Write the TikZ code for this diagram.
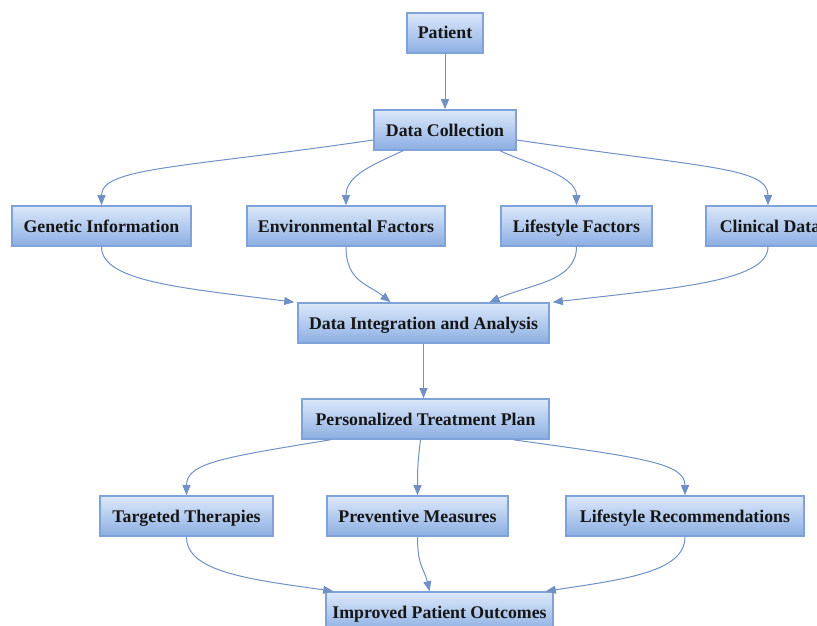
\documentclass[tikz,border=0pt]{standalone}
\usepackage{fontspec}
\setmainfont{Liberation Serif}
\usetikzlibrary{arrows.meta,calc}
\definecolor{boxtop}{HTML}{DCE8FA}
\definecolor{boxbot}{HTML}{8CAEE2}
\definecolor{boxline}{HTML}{7FA3D9}
\definecolor{edgecol}{HTML}{7090C6}
\definecolor{txt}{HTML}{161616}
\tikzset{
  box/.style={rectangle, draw=boxline, line width=1.6pt, top color=boxtop, bottom color=boxbot,
    minimum height=40pt, inner sep=0pt, text height=14pt, text depth=2pt, text=txt,
    font=\fontsize{17.8}{20}\selectfont\bfseries},
  edge/.style={draw=edgecol, line width=1pt, -{Triangle[length=10pt,width=8pt]}}
}
\begin{document}
\begin{tikzpicture}[x=1pt,y=-1pt]
\useasboundingbox (0,0) rectangle (817,626);
\node[box, minimum width=76pt] (pat) at (445,33) {Patient};
\node[box, minimum width=142pt] (dc) at (445,130) {Data Collection};
\node[box, minimum width=179pt] (gen) at (101.5,226) {Genetic Information};
\node[box, minimum width=198pt] (env) at (346,226) {Environmental Factors};
\node[box, minimum width=151pt] (life) at (576.5,226) {Lifestyle Factors};
\node[box, minimum width=128pt] (clin) at (770,226) {Clinical Data};
\node[box, minimum width=251pt] (dia) at (423.5,323) {Data Integration and Analysis};
\node[box, minimum width=247pt] (ptp) at (425.5,419) {Personalized Treatment Plan};
\node[box, minimum width=173pt] (targ) at (186.5,516) {Targeted Therapies};
\node[box, minimum width=181pt] (prev) at (417.5,516) {Preventive Measures};
\node[box, minimum width=238pt] (lrec) at (685,516) {Lifestyle Recommendations};
\node[box, minimum width=227pt] (ipo) at (439.5,612) {Improved Patient Outcomes};

\draw[edge] (pat.south) -- (dc.north);
\draw[edge] ([yshift=-10pt]dc.west) .. controls +(-190,28) and +(0,-38) .. (gen.north);
\draw[edge] ([xshift=-42pt]dc.south) .. controls +(-30,14) and +(0,-30) .. (env.north);
\draw[edge] ([xshift=55pt]dc.south) .. controls +(30,14) and +(0,-30) .. (life.north);
\draw[edge] ([yshift=-10pt]dc.east) .. controls +(190,28) and +(0,-38) .. ([xshift=-2pt]clin.north);
\draw[edge] (gen.south) .. controls +(0,35) and +(-110,-14) .. ([xshift=-3pt]dia.north west);
\draw[edge] (env.south) .. controls +(0,35) and +(-22,-18) .. ([xshift=-33pt]dia.north);
\draw[edge] (life.south) .. controls +(0,35) and +(40,-18) .. ([xshift=66pt]dia.north);
\draw[edge] ([xshift=-2pt]clin.south) .. controls +(0,35) and +(120,-14) .. ([xshift=3pt]dia.north east);
\draw[edge] (dia.south) -- (dia.south |- ptp.north);
\draw[edge] ([xshift=-95pt]ptp.south) .. controls +(-110,18) and +(0,-32) .. (targ.north);
\draw[edge] ([xshift=-5pt]ptp.south) .. controls +(-3,25) and +(0,-25) .. (prev.north);
\draw[edge] ([xshift=88pt]ptp.south) .. controls +(130,18) and +(0,-32) .. (lrec.north);
\draw[edge] (targ.south) .. controls +(0,35) and +(-85,-12) .. ([xshift=8pt]ipo.north west);
\draw[edge] (prev.south) .. controls +(0,30) and +(-5,-22) .. ([xshift=-10pt]ipo.north);
\draw[edge] (lrec.south) .. controls +(0,35) and +(80,-12) .. ([xshift=-8pt]ipo.north east);
\end{tikzpicture}
\end{document}
